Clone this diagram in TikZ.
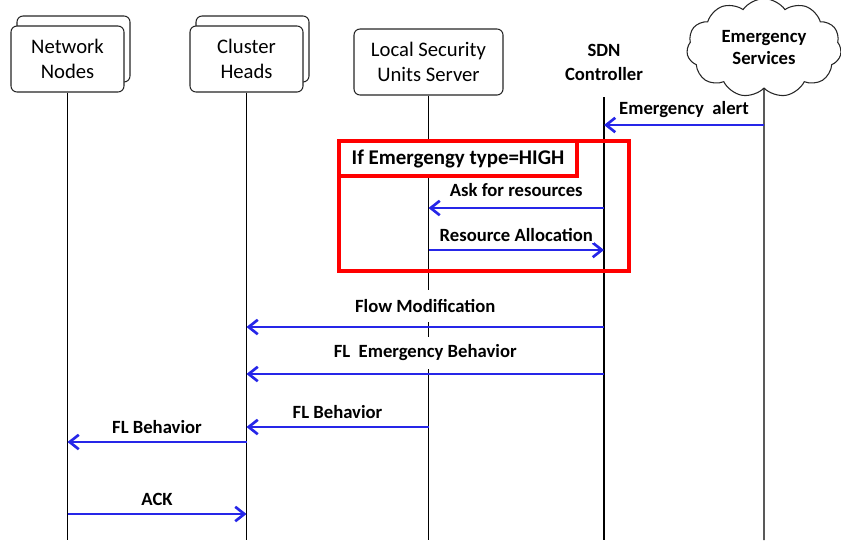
\documentclass[tikz,border=0pt]{standalone}
\usepackage{fontspec}
\setmainfont{Carlito}
\usepackage{tikz}
\usetikzlibrary{arrows.meta,positioning,calc,shapes.symbols,shadows}
\definecolor{cMsg}  {RGB}{38,38,232}
\definecolor{cFrame}{RGB}{255,0,0}
\tikzset{
  >={Straight Barb[length=2.4mm,width=3.8mm]},
  actor/.style={draw=black!85,fill=white,rounded corners=4.5pt,line width=0.8pt,
                minimum width=84.75pt,minimum height=49.5pt,align=center,
                inner sep=2pt,font=\fontsize{15.5}{18.7}\selectfont},
  actorM/.style={actor,copy shadow={shadow xshift=4.5pt,shadow yshift=7.5pt}},% stacked (many)
  ctrl/.style={align=center,minimum height=52.5pt,inner sep=0pt,
               font=\bfseries\fontsize{14}{18}\selectfont},
  ext/.style={cloud,cloud puffs=11,cloud puff arc=110,aspect=1.6,draw=black!85,fill=white,
              line width=0.8pt,minimum width=116pt,minimum height=74pt,inner sep=0pt,align=center,
              font=\bfseries\fontsize{14}{16.5}\selectfont},
  life/.style={-,black,line width=1.1pt},
  msg/.style={->,cMsg,line width=2pt},
  lbl/.style={fill=white,inner sep=1pt,text=black,yshift=11.25pt,
              font=\bfseries\fontsize{14}{16}\selectfont},
  tall/.style={yshift=4.5pt,minimum height=24pt},% label box over a lifeline
  frameBox/.style={draw=cFrame,line width=3pt,inner sep=0pt},
  condBox/.style={frameBox,fill=white,font=\bfseries\fontsize{15.7}{18}\selectfont},
}

\begin{document}
\begin{tikzpicture}[x=0.75pt,y=-0.75pt]
  \useasboundingbox (0,0) rectangle (841,540);
  \node[actorM] (nn)  at (67.5,59)  {Network\\Nodes};
  \node[actorM] (ch)  at (246.5,59) {Cluster\\Heads};
  \node[actor,minimum width=111.75pt] (lsu) at (428.5,62) {Local Security\\Units Server};
  \node[ctrl]   (sdn) at (604,62)   {SDN\\Controller};
  \node[ext]    (es)  at (764,48)   {Emergency\\Services};

  \foreach \a in {nn,ch,lsu,sdn,es}
    \draw[life] (\a.south) -- (\a |- 0,540);

  % alternative block
  \node[frameBox,anchor=north west,minimum width=217.5pt,minimum height=97.5pt] (alt) at (337,139) {};
  \node[condBox,anchor=north west,minimum width=178.5pt,minimum height=26.25pt] (cond) at (337,139)
       {If Emergengy type=HIGH};

  \newcommand{\msg}[6]{\coordinate (#5s) at (#1 |- 0,#3);
    \coordinate (#5t) at (#2 |- 0,#3);
    \draw[msg] (#5s) -- (#5t) node[lbl,midway,#6] (#5l) {#4};}
  \msg{es}{sdn}{125}{Emergency~~alert}{m1}{}
  \msg{sdn}{lsu}{208}{Ask for resources}{m2}{yshift=2.25pt}
  \msg{lsu}{sdn}{250}{Resource Allocation}{m3}{}
  \msg{sdn}{ch}{327}{Flow Modification}{m4}{tall}
  \msg{sdn}{ch}{374}{FL~~Emergency Behavior}{m5}{tall}
  \msg{lsu}{ch}{427}{FL Behavior}{m6}{}
  \msg{ch}{nn}{442}{FL Behavior}{m7}{}
  \msg{nn}{ch}{514}{ACK}{m8}{}
\end{tikzpicture}
\end{document}
